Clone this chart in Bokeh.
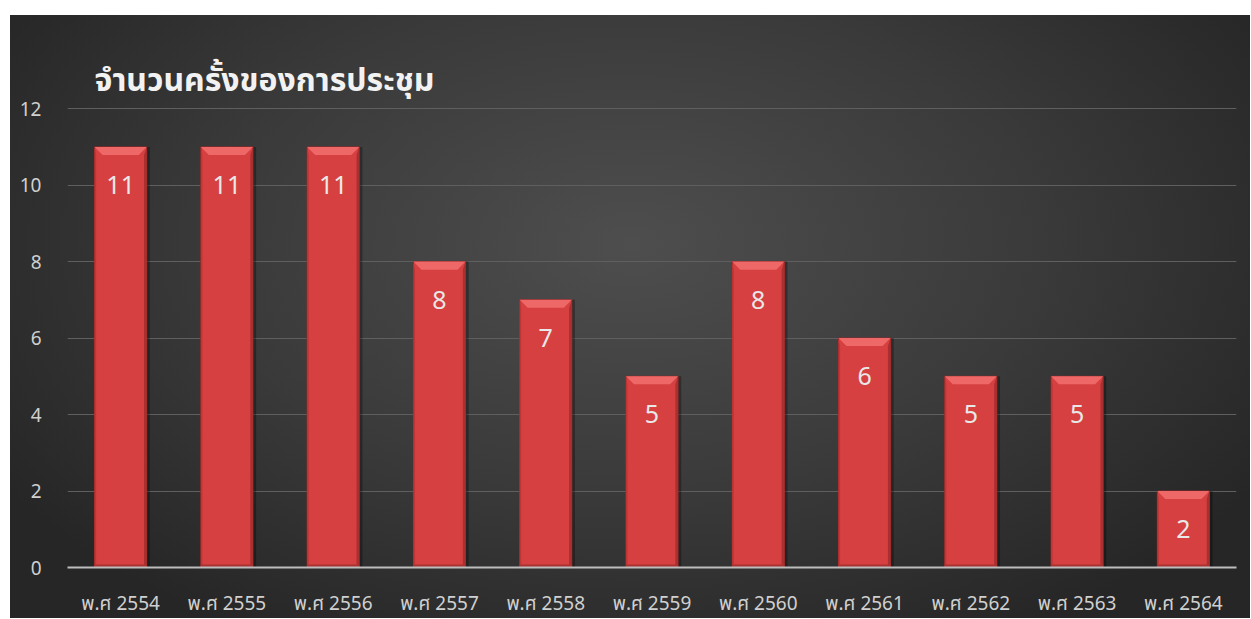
from bokeh.plotting import figure
from bokeh.models import FactorRange, Range1d, ColumnDataSource, FixedTicker
from bokeh.core.properties import value
from bokeh.embed import file_html
from bokeh.resources import INLINE

years = ["พ.ศ 2554", "พ.ศ 2555", "พ.ศ 2556", "พ.ศ 2557", "พ.ศ 2558", "พ.ศ 2559",
         "พ.ศ 2560", "พ.ศ 2561", "พ.ศ 2562", "พ.ศ 2563", "พ.ศ 2564"]
counts = [11, 11, 11, 8, 7, 5, 8, 6, 5, 5, 2]
y_ticks = [0, 2, 4, 6, 8, 10, 12]
title_text = "จำนวนครั้งของการประชุม"

FONT = "'Noto Sans', 'Noto Sans Thai', 'Leelawadee UI', sans-serif"
BAR_W = 0.49

p = figure(x_range=FactorRange(*years), y_range=Range1d(0, 12.03),
           width=1250, height=618, output_backend="svg", toolbar_location=None,
           min_border_left=67, min_border_right=14, min_border_top=107, min_border_bottom=50,
           styles={"background-color": "#ffffff",
                   "background-image": "radial-gradient(ellipse 60% 75% at 50% 38%, #4e4e4e 0%, #3a3a3a 55%, #262626 100%)",
                   "background-repeat": "no-repeat",
                   "background-position": "10px 15px",
                   "background-size": "calc(100% - 10px) calc(100% - 15px)"})
p.border_fill_alpha = 0
p.background_fill_alpha = 0
p.outline_line_color = None

p.title.text = title_text
p.title.text_font = FONT
p.title.text_font_size = "32px"
p.title.text_font_style = "bold"
p.title.text_color = "#f2f2f2"
p.title.align = "left"
p.title.offset = 27
p.title.standoff = 16

# grid
p.xgrid.grid_line_color = None
p.ygrid.ticker = FixedTicker(ticks=y_ticks[1:])
p.ygrid.grid_line_color = "#5f5f5f"
p.ygrid.grid_line_width = 1

# axes
p.yaxis.ticker = FixedTicker(ticks=y_ticks)
p.yaxis.axis_line_color = None
p.yaxis.major_tick_line_color = None
p.yaxis.minor_tick_line_color = None
p.yaxis.major_label_text_color = "#d0d0d0"
p.yaxis.major_label_text_font = FONT
p.yaxis.major_label_text_font_size = "19px"
p.yaxis.major_label_standoff = 20

p.xaxis.axis_line_color = "#bdbdbd"
p.xaxis.axis_line_width = 2
p.xaxis.major_tick_line_color = None
p.xaxis.major_label_text_color = "#d0d0d0"
p.xaxis.major_label_text_font = FONT
p.xaxis.major_label_text_font_size = "19px"
p.xaxis.major_label_standoff = 16

# synthetic category centres
centres = [i + 0.5 for i in range(len(years))]
dx = 0.075
dy = 0.21

# shadow
shadow = ColumnDataSource(dict(x=[c + 0.03 for c in centres], top=counts))
p.vbar(x="x", top="top", bottom=0, width=BAR_W, source=shadow,
       fill_color="#000000", fill_alpha=0.3, line_color=None)

src = ColumnDataSource(dict(x=years, top=counts, lab=[str(v) for v in counts]))
p.vbar(x="x", top="top", bottom=0, width=BAR_W, source=src,
       fill_color="#d64040", line_color="#9a2828", line_width=1)

# bevel: top, right, left and bottom facets
top_xs = [[c - BAR_W / 2, c + BAR_W / 2, c + BAR_W / 2 - dx, c - BAR_W / 2 + dx] for c in centres]
top_ys = [[v, v, v - dy, v - dy] for v in counts]
p.patches(top_xs, top_ys, fill_color="#ee6868", line_color=None)
right_xs = [[c + BAR_W / 2 - 0.025, c + BAR_W / 2, c + BAR_W / 2, c + BAR_W / 2 - 0.025] for c in centres]
right_ys = [[v - dy, v, 0, 0] for v in counts]
p.patches(right_xs, right_ys, fill_color="#a93030", line_color=None)
left_xs = [[c - BAR_W / 2, c - BAR_W / 2 + 0.015, c - BAR_W / 2 + 0.015, c - BAR_W / 2] for c in centres]
left_ys = [[v, v - dy, 0, 0] for v in counts]
p.patches(left_xs, left_ys, fill_color="#c03636", line_color=None)
bot_xs = [[c - BAR_W / 2, c + BAR_W / 2, c + BAR_W / 2, c - BAR_W / 2] for c in centres]
bot_ys = [[0.0, 0.0, 0.08, 0.08] for _ in counts]
p.patches(bot_xs, bot_ys, fill_color="#a83232", line_color=None)

p.text(x="x", y="top", text="lab", source=src, y_offset=38,
       text_align="center", text_baseline="middle",
       text_color="#e8e8e8", text_font=value(FONT), text_font_size="25px")

open("out.html", "w").write(file_html(p, INLINE))
